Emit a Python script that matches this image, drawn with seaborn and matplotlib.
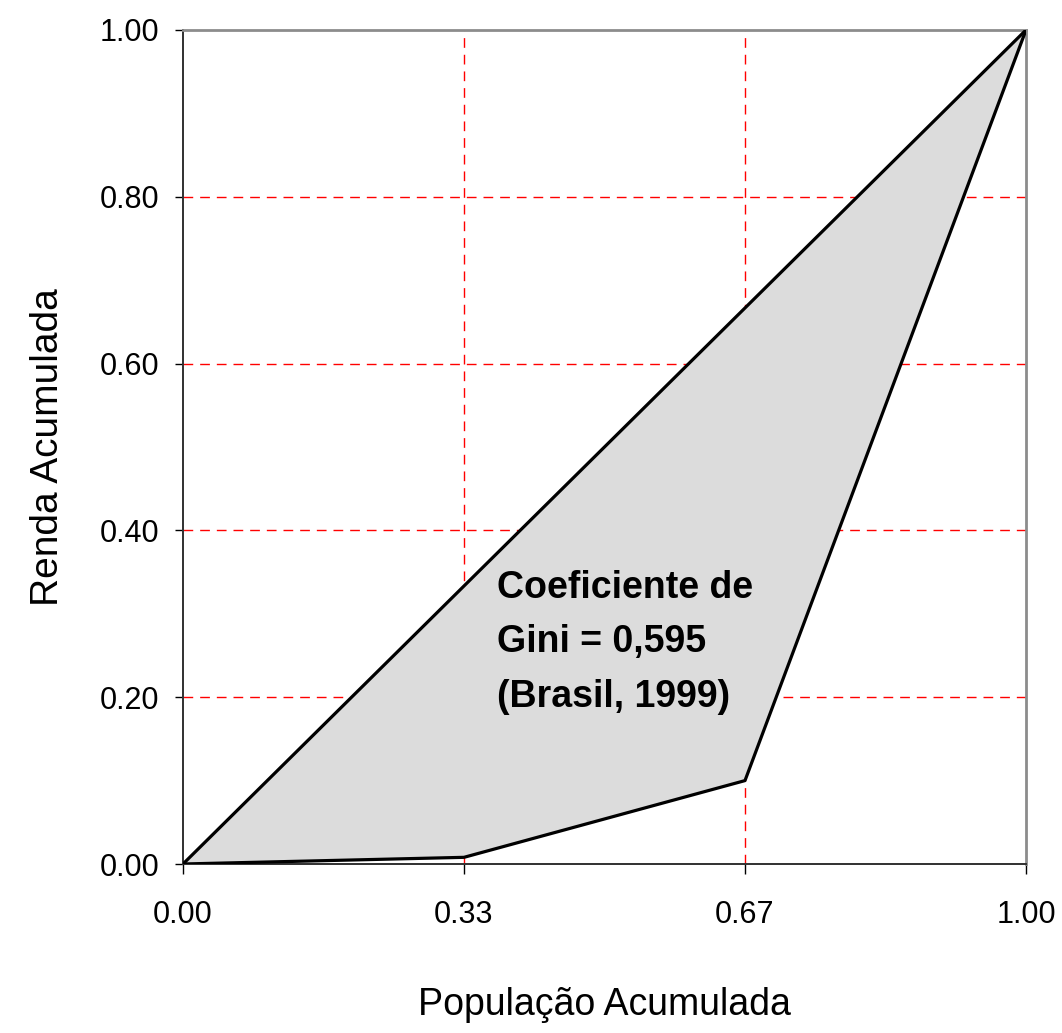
#!/usr/bin/env python3
"""Curva de Lorenz - Brasil, 1999."""

import matplotlib
matplotlib.use("Agg")
import matplotlib.pyplot as plt
import pandas as pd
import seaborn as sns

# Data.
populacao = [0.0, 1 / 3, 2 / 3, 1.0]
renda = [0.0, 0.008, 0.10, 1.0]
igualdade = [0.0, 1.0]
x_ticks = [0.0, 1 / 3, 2 / 3, 1.0]
x_tick_labels = ["0.00", "0.33", "0.67", "1.00"]
y_ticks = [0.0, 0.2, 0.4, 0.6, 0.8, 1.0]
y_tick_labels = ["0.00", "0.20", "0.40", "0.60", "0.80", "1.00"]
gini_text = "Coeficiente de\nGini = 0,595\n(Brasil, 1999)"


def main() -> None:
    sns.set_style("white")
    plt.rcParams["font.family"] = ["Liberation Sans", "DejaVu Sans"]
    plt.rcParams["text.color"] = "black"
    plt.rcParams["axes.labelcolor"] = "black"
    plt.rcParams["xtick.color"] = "black"
    plt.rcParams["ytick.color"] = "black"

    fig = plt.figure(figsize=(10.62, 10.33), dpi=100)
    ax = fig.add_axes([0.1723, 0.1636, 0.7938, 0.8074])

    lorenz = pd.DataFrame({"pop": populacao, "renda": renda})
    diag = pd.DataFrame({"pop": igualdade, "renda": igualdade})

    # Shaded area between equality line and Lorenz curve.
    ax.fill_between(lorenz["pop"], lorenz["pop"], lorenz["renda"],
                    color="#dcdcdc", linewidth=0, zorder=2)

    sns.lineplot(data=diag, x="pop", y="renda", color="black",
                 linewidth=2.3, ax=ax, zorder=3)
    sns.lineplot(data=lorenz, x="pop", y="renda", color="black",
                 linewidth=2.3, ax=ax, zorder=3)

    # Red dashed grid (under the shaded area).
    for xv in x_ticks[1:-1]:
        ax.axvline(xv, color="#ff0000", linewidth=1.0, linestyle=(0, (7, 5)), zorder=1)
    for yv in y_ticks[1:-1]:
        ax.axhline(yv, color="#ff0000", linewidth=1.0, linestyle=(0, (7, 5)), zorder=1)

    ax.set_xlim(0, 1)
    ax.set_ylim(0, 1)
    ax.set_xticks(x_ticks)
    ax.set_xticklabels(x_tick_labels)
    ax.set_yticks(y_ticks)
    ax.set_yticklabels(y_tick_labels)
    ax.tick_params(axis="x", direction="out", length=7, width=1,
                   labelsize=22, pad=19, bottom=True)
    ax.tick_params(axis="y", direction="out", length=6, width=1,
                   labelsize=22, pad=11, left=True)

    for side in ("left", "bottom"):
        ax.spines[side].set_color("#303030")
        ax.spines[side].set_linewidth(1.4)
    for side in ("top", "right"):
        ax.spines[side].set_color("#8c8c8c")
        ax.spines[side].set_linewidth(2.0)

    ax.set_xlabel("População Acumulada", fontsize=27)
    ax.set_ylabel("Renda Acumulada", fontsize=28)
    ax.xaxis.set_label_coords(0.5, -0.148)
    ax.yaxis.set_label_coords(-0.139, 0.5)

    ax.text(0.372, 0.353, gini_text, fontsize=27, fontweight="bold",
            ha="left", va="top", linespacing=1.66, zorder=4)

    fig.savefig("out.png", dpi=100)


if __name__ == "__main__":
    main()
